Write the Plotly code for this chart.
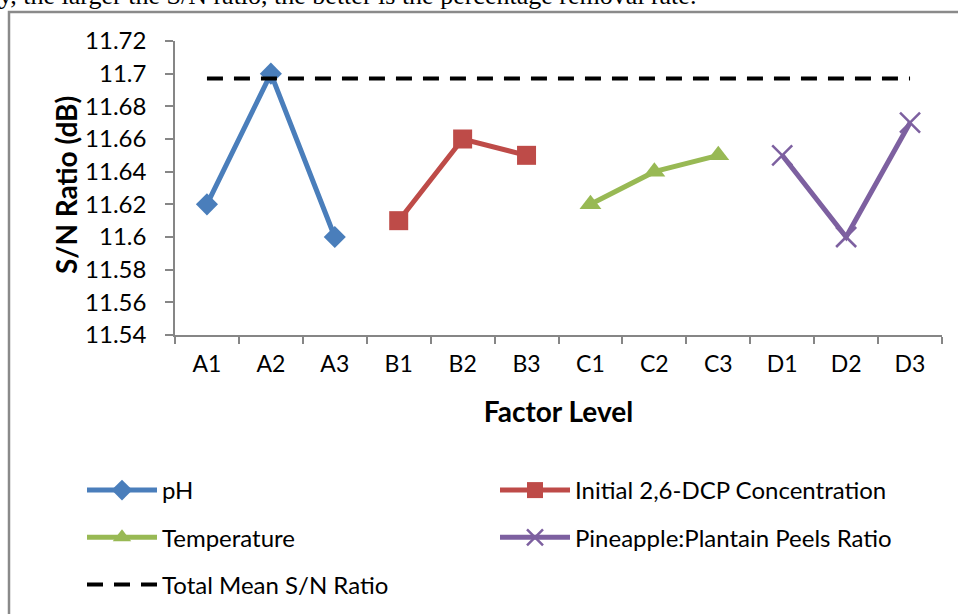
import plotly.graph_objects as go

categories = ["A1", "A2", "A3", "B1", "B2", "B3", "C1", "C2", "C3", "D1", "D2", "D3"]
ph_levels = ["A1", "A2", "A3"]
ph_values = [11.62, 11.70, 11.60]
dcp_levels = ["B1", "B2", "B3"]
dcp_values = [11.61, 11.66, 11.65]
temp_levels = ["C1", "C2", "C3"]
temp_values = [11.62, 11.64, 11.65]
peel_levels = ["D1", "D2", "D3"]
peel_values = [11.65, 11.60, 11.67]
mean_levels = ["A1", "D3"]
mean_values = [11.697, 11.697]
y_tickvals = [11.54, 11.56, 11.58, 11.60, 11.62, 11.64, 11.66, 11.68, 11.70, 11.72]
y_ticktext = ["11.54", "11.56", "11.58", "11.6", "11.62", "11.64", "11.66", "11.68", "11.7", "11.72"]

W, H = 958, 614
L, R, T, B = 175, 16, 41, 279
PW, PH = W - L - R, H - T - B

def px_x(px):
    return (px - L) / PW

def px_y(py):
    return (H - B - py) / PH

FONT = "Lato"
fig = go.Figure()

fig.add_trace(go.Scatter(
    x=ph_levels, y=ph_values, name="pH", mode="lines+markers",
    line=dict(color="#4A7EBB", width=5),
    marker=dict(symbol="diamond", size=17, color="#4A7EBB"),
    legend="legend", legendgroup="a"))
fig.add_trace(go.Scatter(
    x=dcp_levels, y=dcp_values, name="Initial 2,6-DCP Concentration", mode="lines+markers",
    line=dict(color="#BE4B48", width=5),
    marker=dict(symbol="square", size=19, color="#BE4B48"),
    legend="legend2", legendgroup="b"))
fig.add_trace(go.Scatter(
    x=temp_levels, y=temp_values, name="Temperature", mode="lines+markers",
    line=dict(color="#98B954", width=5),
    marker=dict(symbol="triangle-up", size=19, color="#98B954"),
    legend="legend", legendgroup="c"))
fig.add_trace(go.Scatter(
    x=peel_levels, y=peel_values, name="Pineapple:Plantain Peels Ratio", mode="lines+markers",
    line=dict(color="#7D60A0", width=5),
    marker=dict(symbol="x-thin", size=20, color="#7D60A0", line=dict(color="#7D60A0", width=2.5)),
    legend="legend2", legendgroup="d"))
fig.add_trace(go.Scatter(
    x=mean_levels, y=mean_values, name="Total Mean S/N Ratio", mode="lines",
    line=dict(color="#000000", width=4, dash="16px,11px"),
    legend="legend", legendgroup="e"))

legend_common = dict(
    font=dict(family=FONT, size=24, color="#000000"),
    bgcolor="rgba(0,0,0,0)", itemwidth=70, tracegroupgap=13,
    orientation="v", xanchor="left", yanchor="top",
    xref="container", yref="container")

fig.update_layout(
    width=W, height=H,
    margin=dict(l=L, r=R, t=T, b=B, autoexpand=False),
    paper_bgcolor="white", plot_bgcolor="white",
    font=dict(family=FONT, color="#000000"),
    showlegend=True,
    legend=dict(x=82 / W, y=1 - 468 / H, **legend_common),
    legend2=dict(x=495 / W, y=1 - 468 / H, **legend_common),
    xaxis=dict(
        type="category", categoryorder="array", categoryarray=categories,
        range=[-0.5, len(categories) - 0.5],
        showgrid=False, showline=True, linecolor="#868686", linewidth=1.5,
        ticks="outside", tickson="boundaries", ticklen=7, tickcolor="#868686", tickwidth=1.5,
        tickfont=dict(family=FONT, size=23, color="#000000"), tickangle=0,
        ticklabelstandoff=8, automargin=True,
        title=dict(text="<b>Factor Level</b>", font=dict(family=FONT, size=28, color="#000000"), standoff=26),
        zeroline=False),
    yaxis=dict(
        range=[11.54, 11.72], tickvals=y_tickvals, ticktext=y_ticktext,
        showgrid=False, showline=True, linecolor="#868686", linewidth=1.5,
        ticks="outside", ticklen=8, tickcolor="#868686", tickwidth=1.5,
        tickfont=dict(family=FONT, size=24, color="#000000"),
        ticklabelstandoff=14, automargin=True,
        zeroline=False),
    shapes=[dict(type="rect", xref="paper", yref="paper",
                 x0=px_x(9), x1=px_x(W + 20), y0=px_y(H + 20), y1=px_y(12),
                 line=dict(color="#8A8A8A", width=2.5), fillcolor="rgba(0,0,0,0)", layer="below")],
    annotations=[
        dict(text="y, the larger the S/N ratio, the better is the percentage removal rate.",
             xref="paper", yref="paper", x=px_x(-3), y=px_y(-4),
             xanchor="left", yanchor="middle", showarrow=False,
             font=dict(family="Liberation Serif", size=26, color="#000000")),
        dict(text="<b>S/N Ratio (dB)</b>", textangle=-90,
             xref="paper", yref="paper", x=px_x(66), y=px_y(185),
             xanchor="center", yanchor="middle", showarrow=False,
             font=dict(family=FONT, size=28, color="#000000")),
    ],
)

fig.write_html("out.html", config={"displayModeBar": False},
               post_script="document.body.style.margin='0';document.body.style.overflow='hidden';")
